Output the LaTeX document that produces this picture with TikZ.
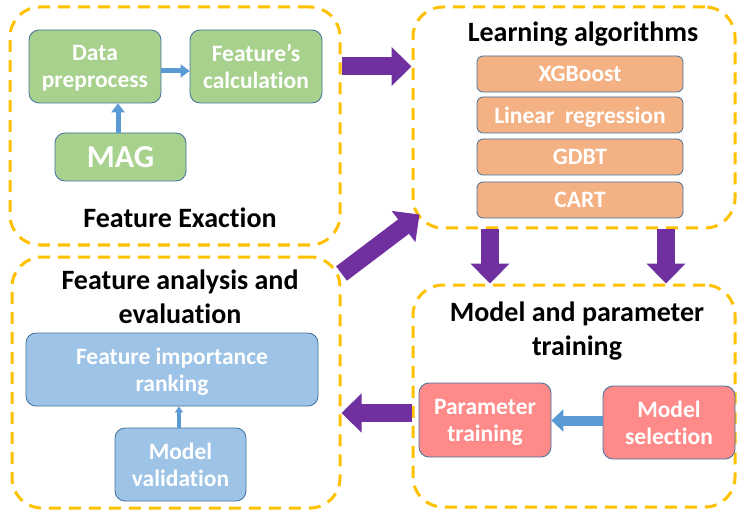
\documentclass[tikz,border=0pt]{standalone}
\usepackage{fontspec}
\setmainfont{Carlito}[Ligatures=NoCommon]
\usetikzlibrary{arrows.meta}
\definecolor{dashyellow}{HTML}{FFC000}
\definecolor{boxgreen}{HTML}{A9D18E}
\definecolor{boxorange}{HTML}{F4B183}
\definecolor{boxpink}{HTML}{FF8A8A}
\definecolor{boxblue}{HTML}{9DC3E6}
\definecolor{edgeblue}{HTML}{41719C}
\definecolor{arrowblue}{HTML}{5B9BD5}
\definecolor{bigpurple}{HTML}{7030A0}

\begin{document}
\begin{tikzpicture}[x=1pt, y=-1pt, font=\bfseries,
	group/.style = {draw=dashyellow, line width=3pt, dash pattern=on 12pt off 8pt, rounded corners=30pt, inner sep=0pt},
	box/.style = {shape=rectangle, draw=edgeblue, line width=0.8pt, rounded corners=10pt, align=center, text=white, inner sep=0pt, text depth=0pt, font=\bfseries\fontsize{23.5}{27}\selectfont},
	title/.style = {align=center, text=black, font=\bfseries\fontsize{28}{34}\selectfont},
	bigarrow/.style = {draw=bigpurple, line width=18pt, -{Triangle[width=38pt, length=20pt]}},
	flow/.style = {draw=arrowblue, line width=5pt, -{Triangle[width=13pt, length=9pt]}}]
	\useasboundingbox (0,0) rectangle (737,516);
	% dashed groups
	\node[group, minimum width=330pt, minimum height=238pt] (fe) at (175,126) {};
	\node[group, minimum width=322pt, minimum height=221pt] (la) at (574,117.5) {};
	\node[group, minimum width=328pt, minimum height=251pt] (fa) at (176,382.5) {};
	\node[group, minimum width=322pt, minimum height=222pt] (mp) at (574,396) {};
	% titles
	\node[title] (fetitle) at (180,218) {Feature Exaction};
	\node[title] (latitle) at (583,34) {Learning algorithms};
	\node[title] (fatitle) at (180,297) {Feature analysis and\\evaluation};
	\node[title] (mptitle) at (577,331) {Model and parameter\\training};
	% feature extraction
	\node[box, fill=boxgreen, minimum width=132pt, minimum height=73pt] (dp) at (95,66.5) {Data\\preprocess};
	\node[box, fill=boxgreen, minimum width=132pt, minimum height=73pt] (fc) at (256,66.5) {Feature's\\calculation};
	\node[box, fill=boxgreen, minimum width=131pt, minimum height=48pt, font=\bfseries\fontsize{32}{32}\selectfont] (mag) at (120.5,157) {MAG};
	% learning algorithms
	\node[box, fill=boxorange, minimum width=206pt, minimum height=36pt, rounded corners=6pt] (xgb) at (580,74) {XGBoost};
	\node[box, fill=boxorange, minimum width=206pt, minimum height=36pt, rounded corners=6pt] (lr) at (580,115) {Linear~~regression};
	\node[box, fill=boxorange, minimum width=206pt, minimum height=36pt, rounded corners=6pt] (gdbt) at (580,157) {GDBT};
	\node[box, fill=boxorange, minimum width=206pt, minimum height=36pt, rounded corners=6pt] (cart) at (580,200) {CART};
	% feature analysis
	\node[box, fill=boxblue, minimum width=292pt, minimum height=73pt] (fir) at (172,369.5) {Feature importance\\ranking};
	\node[box, fill=boxblue, minimum width=131pt, minimum height=73pt] (mv) at (180.5,464.5) {Model\\validation};
	% model training
	\node[box, fill=boxpink, minimum width=132pt, minimum height=74pt] (pt) at (485,420) {Parameter\\training};
	\node[box, fill=boxpink, minimum width=132pt, minimum height=73pt] (ms) at (669,422.5) {Model\\selection};
	% small arrows
	\draw[flow] ([yshift=-4.5pt]dp.east) -- ([yshift=-4.5pt]fc.west);
	\draw[flow] ([xshift=-2.5pt]mag.north) -- ([xshift=-2.5pt]mag.north |- dp.south);
	\draw[flow, line width=4pt, -{Triangle[width=8pt, length=6pt]}] ([xshift=-1.5pt]mv.north) -- ([xshift=-1.5pt]mv.north |- fir.south);
	\draw[flow, line width=10pt, -{Triangle[width=22pt, length=12pt]}] ([yshift=2pt]ms.west) -- ([yshift=2pt]ms.west -| pt.east);
	% big arrows
	\draw[bigarrow] (fe.east |- dp) -- (la.west |- dp);
	\draw[bigarrow] ([yshift=-18pt]fa.north east) -- ([xshift=8pt, yshift=15pt]la.south west);
	\draw[bigarrow] ([xshift=-84pt]la.south) -- ([xshift=-84pt]la.south |- mp.north);
	\draw[bigarrow] ([xshift=92pt]la.south) -- ([xshift=92pt]la.south |- mp.north);
	\draw[bigarrow] ([yshift=7pt]mp.west |- pt) -- ([yshift=7pt]fa.east |- pt);
\end{tikzpicture}
\end{document}
